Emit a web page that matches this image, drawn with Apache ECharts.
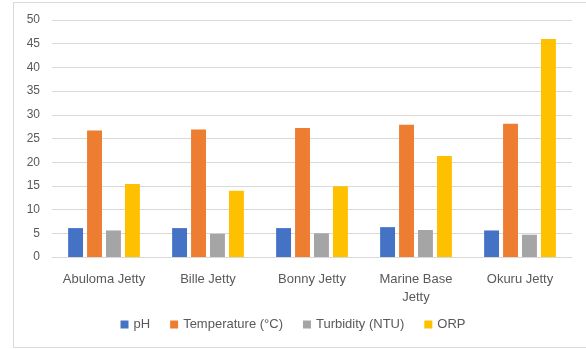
<!DOCTYPE html>
<html>
<head>
<meta charset="utf-8">
<script src="https://cdn.jsdelivr.net/npm/echarts@6/dist/echarts.min.js"></script>
<style>
  html, body { margin: 0; padding: 0; background: #fff; }
  #chart { width: 586px; height: 349px; }
</style>
</head>
<body>
<div id="chart"></div>
<script>
// jetty sites
const categories = ['Abuloma Jetty', 'Bille Jetty', 'Bonny Jetty', 'Marine Base\nJetty', 'Okuru Jetty']
const phValues = [6.1, 6.1, 6.1, 6.3, 5.6]
const temperatureValues = [26.7, 26.9, 27.2, 27.9, 28.1]
const turbidityValues = [5.6, 4.9, 5.0, 5.7, 4.7]
const orpValues = [15.4, 14.0, 14.9, 21.3, 46.0]
const seriesNames = ['pH', 'Temperature (°C)', 'Turbidity (NTU)', 'ORP']

const chart = echarts.init(document.getElementById('chart'))

const labelFont = 'Liberation Sans'

function bar(name, data) {
  return {
    name: name,
    type: 'bar',
    data: data,
    barGap: '27%',
    barCategoryGap: '31%'
  }
}

chart.setOption({
  animation: false,
  color: ['#4472C4', '#ED7D31', '#A5A5A5', '#FFC000'],
  graphic: [{
    type: 'rect',
    shape: { x: 13.5, y: 2.5, width: 580, height: 345 },
    style: { fill: 'none', stroke: '#d9d9d9', lineWidth: 1 },
    silent: true
  }],
  grid: {
    left: 52,
    right: 14,
    top: 20,
    bottom: 92
  },
  legend: {
    bottom: 13,
    left: 'center',
    itemWidth: 8,
    itemHeight: 8,
    itemGap: 20,
    icon: 'rect',
    textStyle: { color: '#595959', fontSize: 13, fontFamily: labelFont },
    data: seriesNames
  },
  xAxis: {
    type: 'category',
    data: categories,
    axisLine: { lineStyle: { color: '#d9d9d9' } },
    axisTick: { show: false },
    axisLabel: {
      interval: 0,
      color: '#595959',
      fontSize: 13,
      fontFamily: labelFont,
      margin: 13,
      lineHeight: 18
    }
  },
  yAxis: {
    type: 'value',
    min: 0,
    max: 50,
    interval: 5,
    axisLine: { show: false },
    axisTick: { show: false },
    splitLine: { lineStyle: { color: '#d9d9d9' } },
    axisLabel: {
      color: '#595959',
      fontSize: 12,
      fontFamily: labelFont,
      margin: 12
    }
  },
  series: [
    bar(seriesNames[0], phValues),
    bar(seriesNames[1], temperatureValues),
    bar(seriesNames[2], turbidityValues),
    bar(seriesNames[3], orpValues)
  ]
})
</script>
</body>
</html>
